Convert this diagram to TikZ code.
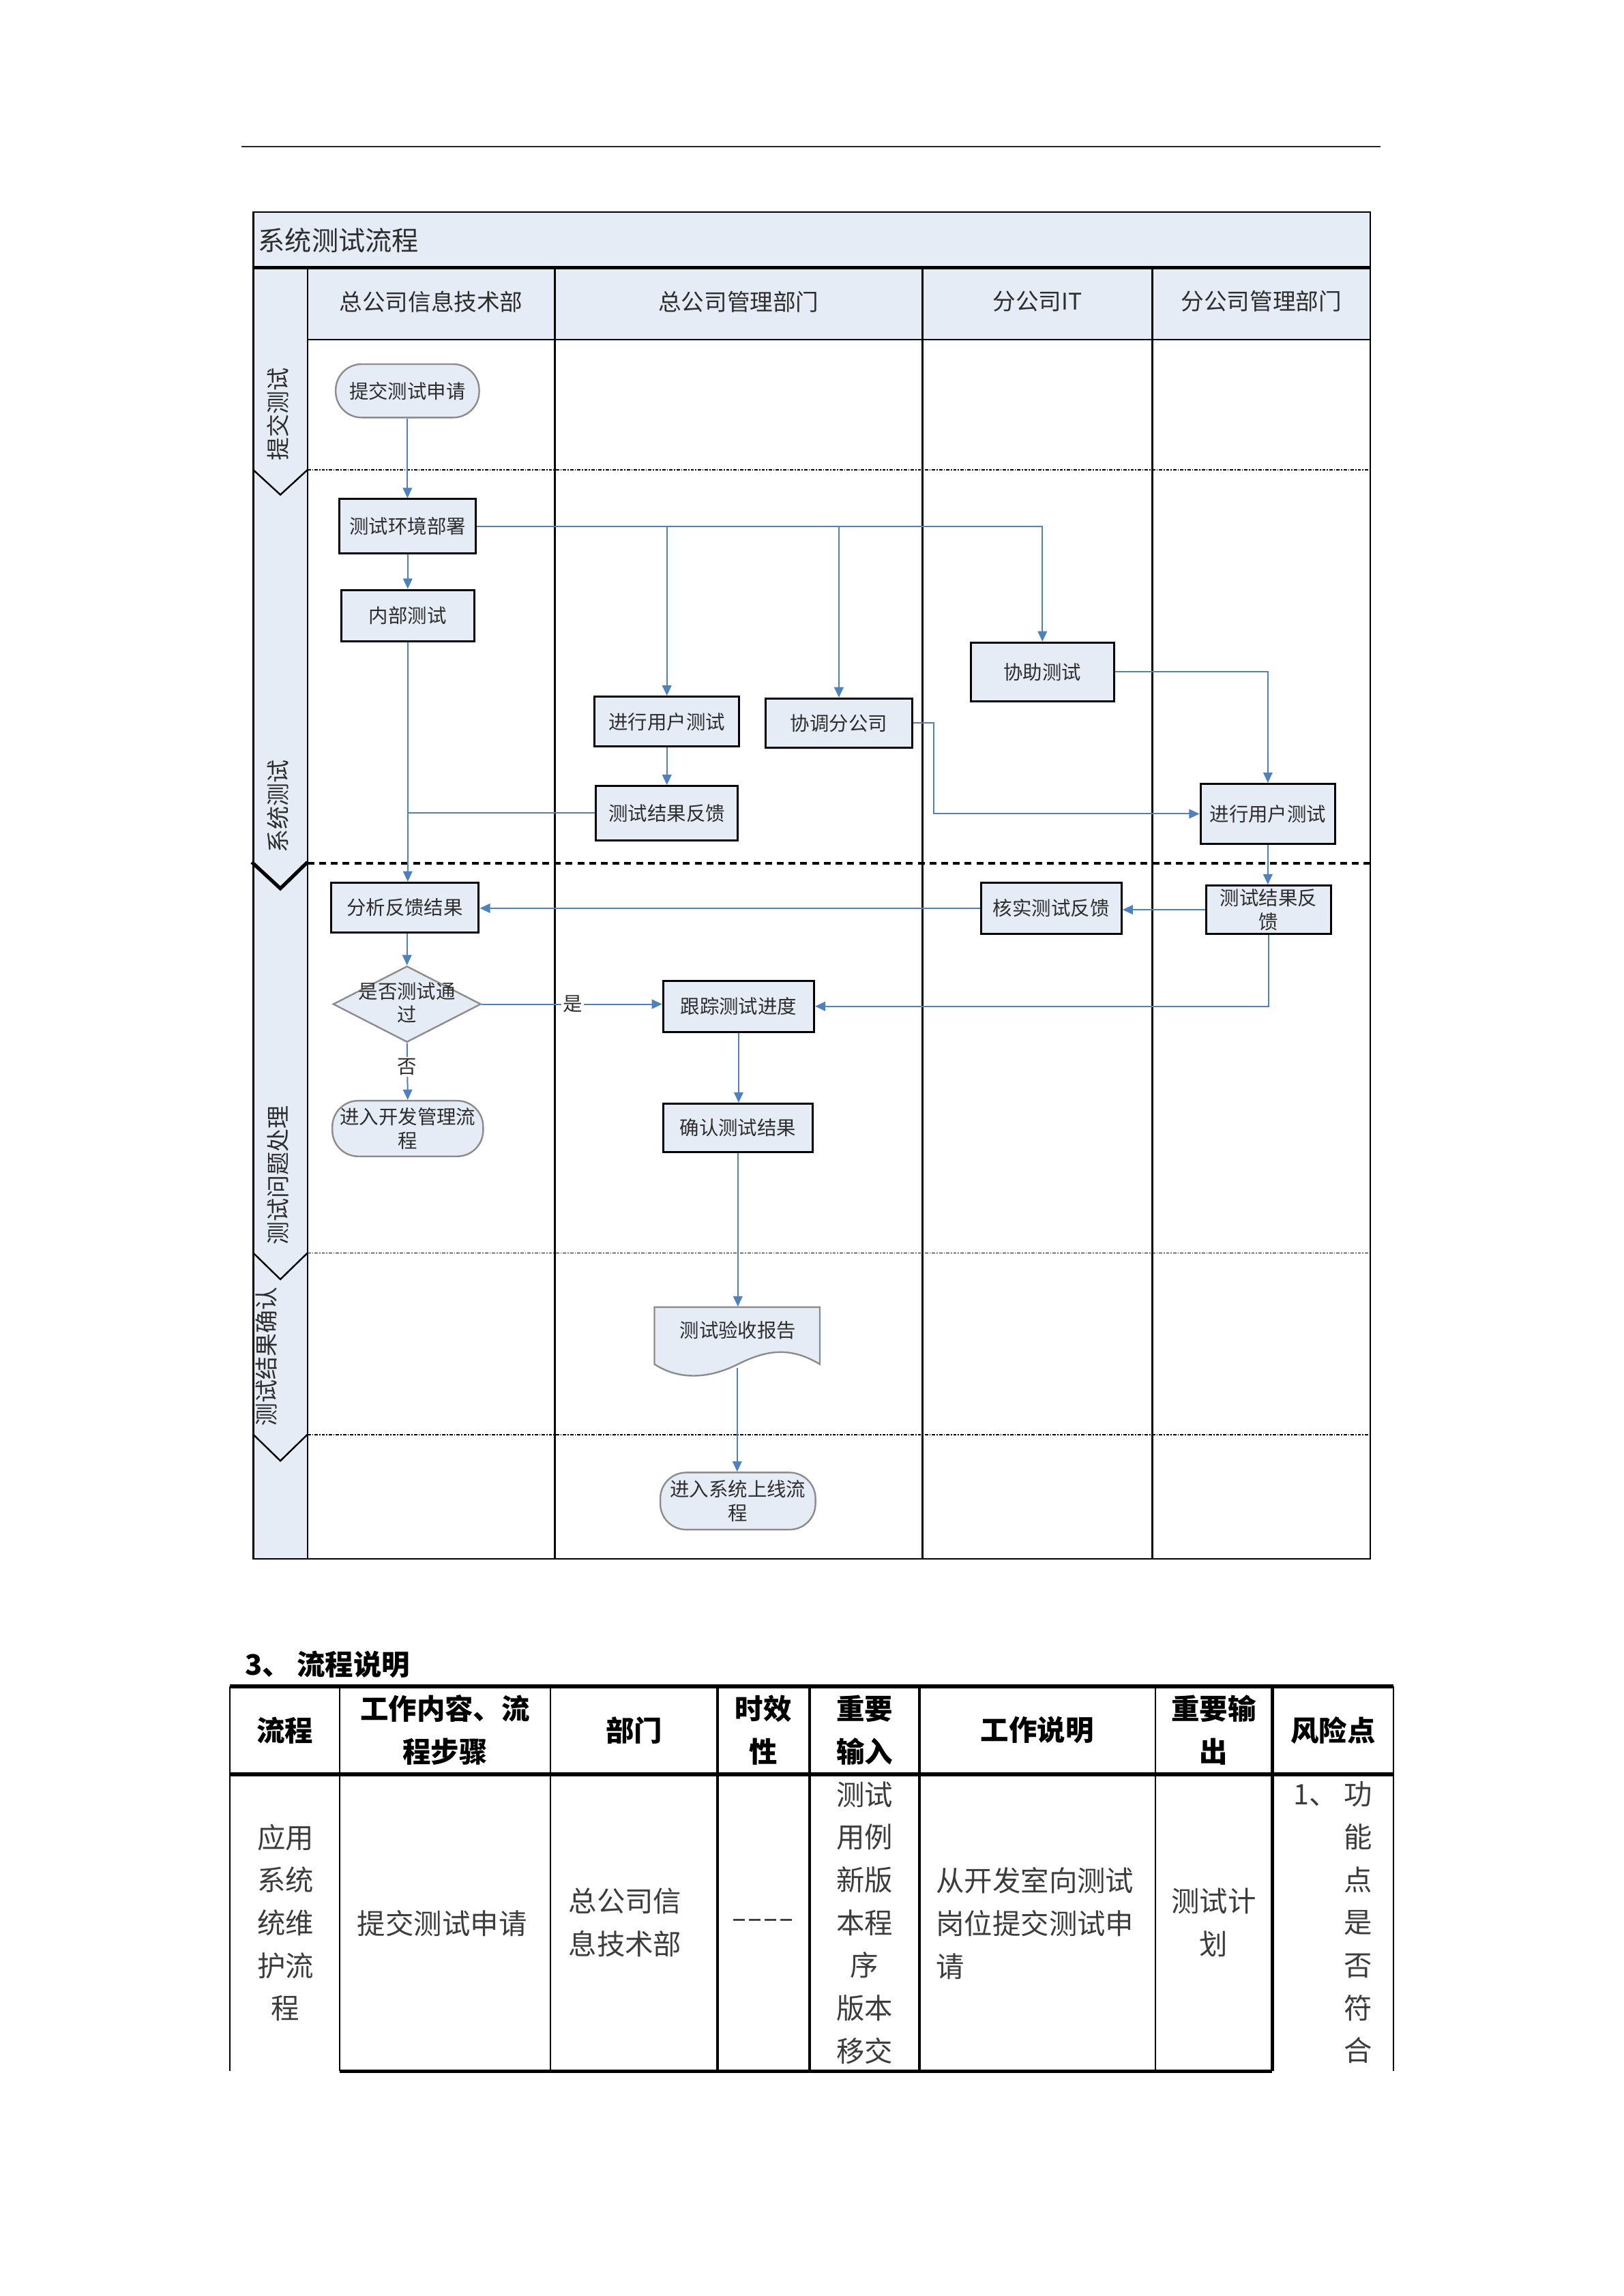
\documentclass[tikz,border=0pt]{standalone}
\usepackage{fontspec}
\newfontfamily\cjk{Noto Sans CJK SC}
\usetikzlibrary{arrows.meta,shapes.geometric}
\definecolor{lblue}{RGB}{230,236,246}
\definecolor{cblue}{RGB}{79,129,189}
\definecolor{txtgray}{RGB}{45,45,45}
\definecolor{bodygray}{RGB}{60,60,60}
\newdimen\pxu \pxu=0.5364pt
\newcommand{\boxfont}{\cjk\fontsize{7.1pt}{8.6pt}\selectfont}
\newcommand{\headfont}{\cjk\fontsize{8.4pt}{10pt}\selectfont}
\newcommand{\phasefont}{\cjk\fontsize{8.5pt}{10pt}\selectfont}
\newcommand{\titlefont}{\cjk\fontsize{9.8pt}{11pt}\selectfont}
\newcommand{\tabfont}{\cjk\fontsize{10.35pt}{15.66pt}\selectfont}
\tikzset{
  conn/.style={draw=cblue, line width=0.5pt, -{Triangle[length=3.8pt,width=3.4pt]}},
  cline/.style={draw=cblue, line width=0.5pt},
  proc/.style={draw=black, line width=0.75pt, fill=lblue, inner sep=0pt, font=\boxfont, text=txtgray, align=center},
  term/.style={draw=black!45, line width=0.6pt, fill=lblue, inner sep=0pt, font=\boxfont, text=txtgray, align=center, rounded corners=9.5pt},
  decis/.style={shape=diamond, draw=black!45, line width=0.6pt, fill=lblue, inner sep=0pt},
  plain/.style={inner sep=0pt, font=\boxfont, text=txtgray, align=center},
  lbl/.style={fill=white, inner sep=0.6pt, font=\boxfont, text=txtgray},
  hdr/.style={inner sep=0pt, font=\headfont, text=txtgray},
  phase/.style={inner sep=0pt, font=\phasefont, text=txtgray, rotate=90},
  frame/.style={draw=black, line width=0.6pt},
  sepdot/.style={draw=black, line width=0.45pt, dash pattern=on 1.2pt off 0.5pt on 0.4pt off 0.5pt},
  sepdash/.style={draw=black, line width=1pt, dash pattern=on 2.5pt off 1.8pt},
  chev/.style={draw=black, line width=0.6pt},
  thead/.style={inner sep=0pt, font=\tabfont\bfseries, text=black, align=center},
  tbody/.style={inner sep=0pt, font=\tabfont, text=bodygray},
  tthin/.style={draw=black, line width=0.5pt},
  tthick/.style={draw=black, line width=1.1pt},
}
\begin{document}
\begin{tikzpicture}[x=0.5364pt,y=-0.5364pt]
\useasboundingbox (0,0) rectangle (1109.2,1568.6);
\fill[white] (0,0) rectangle (1109.2,1568.6);

% page rule
\draw[line width=0.5pt, black!85] (165,100) -- (943,100);

% ---------- swimlane frame ----------
\fill[lblue] (173,145) rectangle (936,183);
\fill[lblue] (173,183) rectangle (210,1065);
\fill[lblue] (210,183) rectangle (936,232);
\draw[frame] (173,145) rectangle (936,1065);
\draw[draw=black, line width=1.2pt] (173,183) -- (936,183);
\draw[frame] (210,183) -- (210,1065);
\draw[frame] (210,232) -- (936,232);
\draw[frame] (379,183) -- (379,1065);
\draw[frame] (630,183) -- (630,1065);
\draw[frame] (787,183) -- (787,1065);

\node[anchor=west, inner sep=0pt, font=\titlefont, text=txtgray] (title) at (176,164) {系统测试流程};
\node[hdr] (h1) at (294.5,206) {总公司信息技术部};
\node[hdr] (h2) at (504.5,206) {总公司管理部门};
\node[hdr] (h3) at (708.5,206) {分公司IT};
\node[hdr] (h4) at (861.5,206) {分公司管理部门};

% phase separators
\draw[sepdot] (210,321) -- (936,321);
\draw[sepdash] (210,590) -- (936,590);
\draw[sepdot] (210,856) -- (936,856);
\draw[sepdot] (210,980) -- (936,980);
\draw[chev] (173,321) -- (191.5,338) -- (210,321);
\draw[chev, line width=1.3pt] (172,589) -- (191.5,607) -- (210,589);
\draw[chev] (173,856) -- (191.5,874) -- (210,856);
\draw[chev] (173,980) -- (191.5,998) -- (210,980);

\node[phase] (p1) at (190,283) {提交测试};
\node[phase] (p2) at (190,551) {系统测试};
\node[phase] (p3) at (190,803) {测试问题处理};
\node[phase] (p4) at (182,927) {测试结果确认};

% ---------- nodes ----------
\node[term, minimum width=98\pxu, minimum height=36.5\pxu] (submit) at (278.3,267) {提交测试申请};
\node[proc, minimum width=93\pxu, minimum height=37\pxu] (env) at (278.5,359.5) {测试环境部署};
\node[proc, minimum width=91\pxu, minimum height=35\pxu] (inner) at (278.5,420.5) {内部测试};
\node[proc, minimum width=99\pxu, minimum height=34\pxu] (userA) at (455.5,493) {进行用户测试};
\node[proc, minimum width=100\pxu, minimum height=33.5\pxu] (coord) at (573,494) {协调分公司};
\node[proc, minimum width=98\pxu, minimum height=40\pxu] (assist) at (712,459) {协助测试};
\node[proc, minimum width=97\pxu, minimum height=37\pxu] (fbA) at (455.5,555.5) {测试结果反馈};
\node[proc, minimum width=92\pxu, minimum height=41\pxu] (userB) at (866,556) {进行用户测试};
\node[proc, minimum width=101\pxu, minimum height=34\pxu] (analyze) at (276.5,620) {分析反馈结果};
\node[proc, minimum width=96\pxu, minimum height=35\pxu] (verify) at (718,620.5) {核实测试反馈};
\node[proc, minimum width=85\pxu, minimum height=33\pxu] (fbB) at (866.5,621.5) {测试结果反\\馈};
\node[decis, minimum width=101\pxu, minimum height=52\pxu] (dia) at (278,686) {};
\node[plain] (diatext) at (278,685) {是否测试通\\过};
\node[proc, minimum width=103\pxu, minimum height=35\pxu] (track) at (504.5,687.5) {跟踪测试进度};
\node[term, minimum width=103\pxu, minimum height=38\pxu] (dev) at (278.5,771) {进入开发管理流\\程};
\node[proc, minimum width=102\pxu, minimum height=33\pxu] (confirm) at (504,770.5) {确认测试结果};
% document shape
\draw[draw=black!45, line width=0.6pt, fill=lblue]
  (447,893) -- (560,893) -- (560,932)
  .. controls (540,920) and (524,922) .. (504,932)
  .. controls (484,942) and (464,943) .. (447,932) -- cycle;
\node[inner sep=0pt, minimum width=113\pxu, minimum height=41\pxu] (report) at (503.5,913.5) {};
\node[plain] (reporttext) at (504,909) {测试验收报告};
\node[term, minimum width=106\pxu, minimum height=39\pxu] (final) at (504,1025.5) {进入系统上线流\\程};

% ---------- connectors ----------
\draw[conn] (submit.south) -- (submit.south |- env.north);
\draw[conn] (env.south) -- (env.south |- inner.north);
\draw[conn] (env.east) -| (assist.north);
\coordinate (jA) at (userA.north |- env.east);
\coordinate (jC) at (coord.north |- env.east);
\draw[conn] (jA) -- (userA.north);
\draw[conn] (jC) -- (coord.north);
\draw[conn] (inner.south) -- (inner.south |- analyze.north);
\draw[cline] (fbA.west) -- (inner.south |- fbA.west);
\draw[conn] (userA.south) -- (fbA.north);
\draw[conn] (assist.east) -| (userB.north);
\draw[conn] (coord.east) -- ++(14,0) |- (userB.west);
\draw[conn] (userB.south) -- (userB.south |- fbB.north);
\draw[conn] (fbB.west) -- (fbB.west -| verify.east);
\draw[conn] (verify.west) -- (verify.west -| analyze.east);
\draw[conn] (analyze.south -| dia.north) -- (dia.north);
\draw[conn] (dia.east) -- (dia.east -| track.west);
\node[lbl] (yes) at (391,686) {是};
\draw[conn] (fbB.south) |- (track.east);
\draw[conn] (dia.south) -- (dev.north);
\node[lbl] (no) at (278,729) {否};
\draw[conn] (track.south) -- (track.south |- confirm.north);
\draw[conn] (confirm.south) -- (confirm.south |- report.north);
\draw[conn] (report.south) -- (report.south |- final.north);

% ---------- table ----------
\node[anchor=west, inner sep=0pt, font=\tabfont\bfseries, text=black] (sec) at (167,1137) {3、 流程说明};
\draw[draw=black, line width=1.5pt] (157,1152) -- (952,1152);
\draw[draw=black, line width=1.5pt] (157,1212) -- (952,1212);
\draw[tthin] (157,1152) -- (157,1415);
\draw[tthin] (232,1152) -- (232,1415);
\draw[tthin] (376,1152) -- (376,1415);
\draw[tthick] (490,1152) -- (490,1415);
\draw[tthick] (553,1152) -- (553,1415);
\draw[tthick] (628,1152) -- (628,1415);
\draw[tthin] (789,1152) -- (789,1415);
\draw[tthick] (869,1152) -- (869,1415);
\draw[tthin] (952,1152) -- (952,1415);
\draw[tthick] (232,1415) -- (869,1415);

\node[thead] (t1) at (194.5,1182) {流程};
\node[thead] (t2) at (304,1182) {工作内容、流\\程步骤};
\node[thead] (t3) at (433,1182) {部门};
\node[thead] (t4) at (521.5,1182) {时效\\性};
\node[thead] (t5) at (590.5,1182) {重要\\输入};
\node[thead] (t6) at (708.5,1182) {工作说明};
\node[thead] (t7) at (829,1182) {重要输\\出};
\node[thead] (t8) at (910.5,1182) {风险点};

\node[tbody, align=center] (b1) at (195,1313.5) {应用\\系统\\统维\\护流\\程};
\node[tbody, align=center] (b2) at (302,1314) {提交测试申请};
\node[tbody, align=center] (b3) at (427,1313.5) {总公司信\\息技术部};
\node[tbody, align=center] (b4) at (521,1314) {\scalebox{1.6}[1]{----}};
\node[tbody, align=center] (b5) at (590.5,1313.5) {测试\\用例\\新版\\本程\\序\\版本\\移交};
\node[tbody, align=left, anchor=west] (b6) at (639,1314) {从开发室向测试\\岗位提交测试申\\请};
\node[tbody, align=center] (b7) at (829,1313.5) {测试计\\划};
\node[tbody, align=right, anchor=east] (b8) at (937.5,1313.5) {1、 功\\能\\点\\是\\否\\符\\合};
\end{tikzpicture}
\end{document}
